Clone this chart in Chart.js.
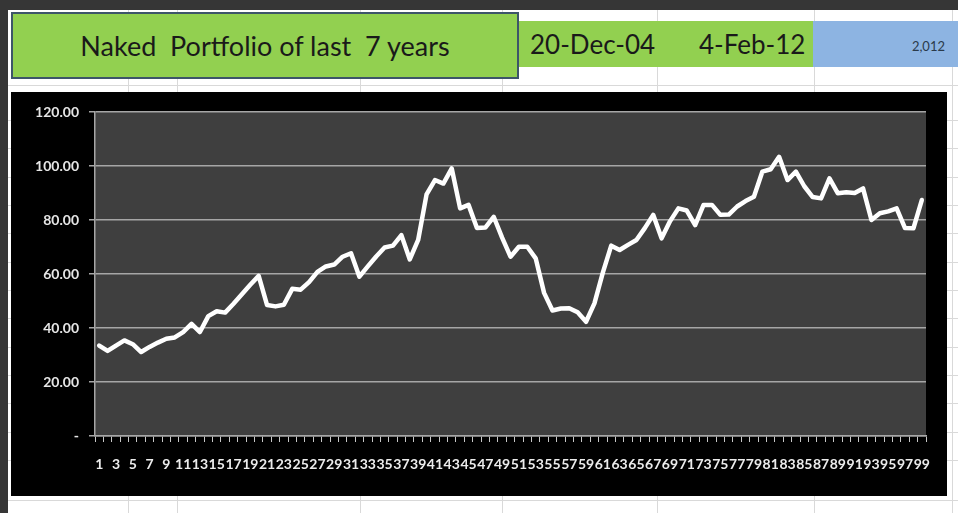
<!DOCTYPE html>
<html>
<head>
<meta charset="utf-8">
<script src="https://cdn.jsdelivr.net/npm/chart.js@4/dist/chart.umd.min.js"></script>
<style>
  html, body { margin: 0; padding: 0; }
  body {
    width: 958px; height: 513px; position: relative; overflow: hidden;
    background: #ffffff; font-family: Lato, 'Open Sans', sans-serif;
  }
  .frame-top { position: absolute; left: 0; top: 0; width: 958px; height: 10px; background: #363636; }
  .frame-left { position: absolute; left: 0; top: 0; width: 8px; height: 513px; background: #363636; }
  .vline { position: absolute; width: 1px; background: #d9d9d9; top: 10px; height: 503px; }
  .hline { position: absolute; height: 1px; background: #d9d9d9; left: 8px; width: 950px; }
  .title-box {
    position: absolute; left: 11px; top: 12px; width: 504px; height: 63px;
    background: #92d050; border: 2px solid #3d5569;
    display: flex; align-items: center; justify-content: center;
    font-size: 27px; color: #1a1a1a; white-space: pre;
  }
  .cell-green { position: absolute; left: 519px; top: 21px; width: 294px; height: 46px; background: #92d050; }
  .cell-blue { position: absolute; left: 813px; top: 21px; width: 145px; height: 46px; background: #8db4e2; }
  .date { position: absolute; top: 21px; height: 46px; line-height: 46px; font-size: 26px; color: #1a1a1a; }
  .year { position: absolute; right: 13px; top: 21px; height: 46px; line-height: 50px; font-size: 13px; color: #2a3a4a; }
  #chart-wrap { position: absolute; left: 11px; top: 92px; width: 936px; height: 404px; background: #000; }
</style>
</head>
<body>
<div class="frame-top"></div>
<div class="frame-left"></div>
<div class="vline" style="left:128px"></div>
<div class="vline" style="left:177px"></div>
<div class="vline" style="left:360px"></div>
<div class="vline" style="left:502px"></div>
<div class="vline" style="left:657px"></div>
<div class="vline" style="left:814px"></div>
<div class="vline" style="left:952px"></div>
<div class="hline" style="top:85px"></div>
<div class="hline" style="top:120px"></div>
<div class="hline" style="top:148px"></div>
<div class="hline" style="top:177px"></div>
<div class="hline" style="top:205px"></div>
<div class="hline" style="top:233px"></div>
<div class="hline" style="top:262px"></div>
<div class="hline" style="top:290px"></div>
<div class="hline" style="top:318px"></div>
<div class="hline" style="top:347px"></div>
<div class="hline" style="top:375px"></div>
<div class="hline" style="top:403px"></div>
<div class="hline" style="top:432px"></div>
<div class="hline" style="top:460px"></div>
<div class="hline" style="top:500px"></div>

<div class="cell-green"></div>
<div class="cell-blue"></div>
<div class="title-box">Naked  Portfolio of last  7 years</div>
<div class="date" style="left:530px">20-Dec-04</div>
<div class="date" style="left:699px">4-Feb-12</div>
<div class="year">2,012</div>

<div id="chart-wrap"><canvas id="portfolio-chart"></canvas></div>

<script>
// ─── Portfolio data ───────────────────────────────────────────────────────────
const periods = Array.from({ length: 99 }, (_, i) => String(i + 1));

const portfolioValues = [
  33.5, 31.5, 33.5, 35.4, 34.0, 31.1, 33.0, 34.6, 36.0, 36.5,
  38.5, 41.5, 38.5, 44.4, 46.2, 45.7, 49.0, 52.5, 56.0, 59.3,
  48.5, 48.0, 48.6, 54.5, 54.2, 57.0, 60.8, 62.8, 63.5, 66.4,
  67.7, 59.0, 62.8, 66.5, 69.8, 70.5, 74.4, 65.4, 72.6, 89.5,
  94.8, 93.5, 99.1, 84.3, 85.6, 77.0, 77.2, 81.2, 73.5, 66.4,
  70.1, 70.1, 65.8, 53.0, 46.5, 47.2, 47.3, 45.8, 42.3, 49.1,
  60.5, 70.5, 68.9, 70.8, 72.6, 77.0, 81.9, 73.2, 79.5, 84.3,
  83.5, 78.1, 85.6, 85.6, 81.9, 82.0, 85.0, 87.0, 88.6, 97.9,
  98.8, 103.4, 94.8, 97.9, 92.5, 88.5, 88.0, 95.4, 89.9, 90.3,
  90.0, 91.7, 80.0, 82.5, 83.2, 84.3, 77.0, 76.9, 87.4,
];

const yTicks = [0, 20, 40, 60, 80, 100, 120];

// Fill the plot area dark grey, like an Excel plot area
const plotAreaFill = {
  id: 'plotAreaFill',
  beforeDraw(chart) {
    const { ctx, chartArea: a } = chart;
    ctx.save();
    ctx.fillStyle = '#3f3f3f';
    ctx.fillRect(a.left, a.top, a.right - a.left, a.bottom - a.top);
    ctx.restore();
  },
};

const ctx = document.getElementById('portfolio-chart').getContext('2d');

new Chart(ctx, {
  type: 'line',
  data: {
    labels: periods,
    datasets: [{
      data: portfolioValues,
      borderColor: '#ffffff',
      borderWidth: 4.5,
      pointRadius: 0,
      tension: 0,
      borderJoinStyle: 'round',
      borderCapStyle: 'round',
    }],
  },
  options: {
    responsive: true,
    maintainAspectRatio: false,
    animation: false,
    layout: { padding: { top: 20, right: 21, left: 0, bottom: 0 } },
    plugins: {
      legend: { display: false },
      tooltip: { enabled: false },
    },
    scales: {
      x: {
        offset: true,
        afterFit: (scale) => { scale.height = 60; },
        grid: {
          display: true,
          offset: true,
          drawOnChartArea: false,
          drawTicks: true,
          tickLength: 6,
          color: '#c8c8c8',
          lineWidth: 1,
        },
        border: { display: true, color: '#a6a6a6', width: 1.5 },
        ticks: {
          autoSkip: false,
          maxRotation: 0,
          minRotation: 0,
          padding: 14,
          color: '#ececec',
          font: { family: 'Lato', size: 14, weight: 'bold' },
          callback: (value, index) => (index % 2 === 0 ? periods[index] : ''),
        },
      },
      y: {
        min: yTicks[0],
        max: yTicks[yTicks.length - 1],
        afterFit: (scale) => { scale.width = 84; },
        afterBuildTicks: (scale) => { scale.ticks = yTicks.map(v => ({ value: v })); },
        grid: {
          color: '#a6a6a6',
          lineWidth: 1.5,
          tickLength: 6,
        },
        border: { display: true, color: '#a6a6a6', width: 1.5 },
        ticks: {
          padding: 10,
          color: '#e6e6e6',
          font: { family: 'Lato', size: 14, weight: 'bold' },
          callback: (value) => (value === 0 ? '-' : value.toFixed(2)),
        },
      },
    },
  },
  plugins: [plotAreaFill],
});
</script>
</body>
</html>
